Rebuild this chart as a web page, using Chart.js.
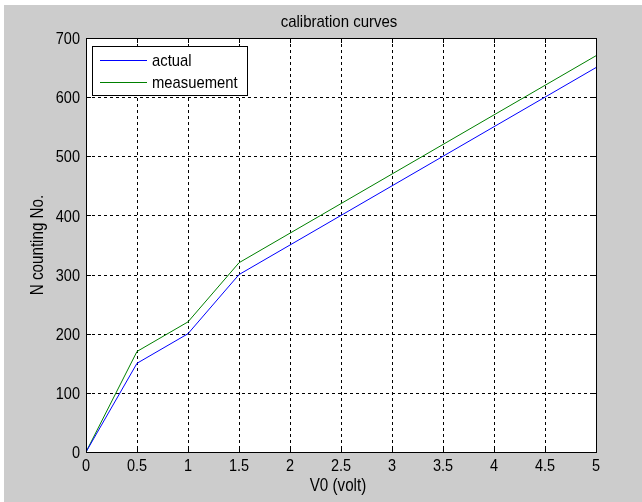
<!DOCTYPE html>
<html>
<head>
<meta charset="utf-8">
<script src="https://cdn.jsdelivr.net/npm/chart.js@4"></script>
<style>
  html, body { margin: 0; padding: 0; background: #ffffff; }
  #c { display: block; }
</style>
</head>
<body>
<canvas id="c" width="642" height="502"></canvas>
<script>
// ---- data ----
const voltages = [0, 0.5, 1, 1.5, 2, 2.5, 3, 3.5, 4, 4.5, 5];
const actual = [0, 150, 200, 300, 350, 400, 450, 500, 550, 600, 650];
const measurement = [0, 170, 220, 320, 370, 420, 470, 520, 570, 620, 670];
const seriesLabels = ['actual', 'measuement'];
const seriesColors = ['#0000ff', '#008000'];
const xTickValues = [0, 0.5, 1, 1.5, 2, 2.5, 3, 3.5, 4, 4.5, 5];
const yTickValues = [0, 100, 200, 300, 400, 500, 600, 700];
const titleText = 'calibration curves';
const xTitle = 'V0 (volt)';
const yTitle = 'N counting No.';

const FONT = '"Liberation Sans", Arial, sans-serif';

// draw text with a slight vertical stretch (the reference glyphs are taller than wide)
function drawText(ctx, text, x, y, size, stretch, align, rotate) {
  ctx.save();
  ctx.translate(x, y);
  if (rotate) ctx.rotate(-Math.PI / 2);
  ctx.scale(1, stretch);
  ctx.font = size + 'px ' + FONT;
  ctx.fillStyle = '#000';
  ctx.textAlign = align;
  ctx.textBaseline = 'alphabetic';
  ctx.fillText(text, 0, 0);
  ctx.restore();
}

const matlabPlugin = {
  id: 'matlab',
  beforeDraw(chart) {
    const ctx = chart.ctx;
    ctx.save();
    ctx.fillStyle = '#ffffff';
    ctx.fillRect(0, 0, chart.width, chart.height);
    ctx.fillStyle = '#cccccc';
    ctx.fillRect(4, 5, chart.width - 4, chart.height - 5);
    const a = chart.chartArea;
    ctx.fillStyle = '#ffffff';
    ctx.fillRect(a.left, a.top, a.right - a.left, a.bottom - a.top);
    ctx.restore();
  },
  beforeDatasetsDraw(chart) {
    const ctx = chart.ctx;
    const a = chart.chartArea;
    const xs = chart.scales.x, ys = chart.scales.y;
    ctx.save();
    ctx.strokeStyle = '#000';
    ctx.lineWidth = 1;
    ctx.setLineDash([3, 3]);
    ctx.beginPath();
    xs.ticks.forEach(t => {
      const v = t.value;
      if (v === xs.min || v === xs.max) return;
      const px = Math.round(xs.getPixelForValue(v)) + 0.5;
      ctx.moveTo(px, a.top);
      ctx.lineTo(px, a.bottom);
    });
    ys.ticks.forEach(t => {
      const v = t.value;
      if (v === ys.min || v === ys.max) return;
      const py = Math.round(ys.getPixelForValue(v)) + 0.5;
      ctx.moveTo(a.left, py);
      ctx.lineTo(a.right, py);
    });
    ctx.stroke();
    ctx.setLineDash([]);
    // inner tick marks (MATLAB style)
    const tl = 5;
    ctx.beginPath();
    xs.ticks.forEach(t => {
      const px = Math.round(xs.getPixelForValue(t.value)) + 0.5;
      ctx.moveTo(px, a.bottom); ctx.lineTo(px, a.bottom - tl);
      ctx.moveTo(px, a.top); ctx.lineTo(px, a.top + tl);
    });
    ys.ticks.forEach(t => {
      const py = Math.round(ys.getPixelForValue(t.value)) + 0.5;
      ctx.moveTo(a.left, py); ctx.lineTo(a.left + tl, py);
      ctx.moveTo(a.right, py); ctx.lineTo(a.right - tl, py);
    });
    ctx.stroke();
    ctx.restore();
  },
  afterDatasetsDraw(chart) {
    const ctx = chart.ctx;
    const a = chart.chartArea;
    const xs = chart.scales.x, ys = chart.scales.y;
    ctx.save();
    // axes box
    ctx.strokeStyle = '#000';
    ctx.lineWidth = 1;
    ctx.strokeRect(Math.round(a.left) + 0.5, Math.round(a.top) + 0.5,
                   Math.round(a.right - a.left), Math.round(a.bottom - a.top));
    // tick labels, from the library's scales
    xs.ticks.forEach(t => {
      const px = xs.getPixelForValue(t.value);
      drawText(ctx, String(t.label), px, a.bottom + 18.5, 14.5, 1.18, 'center', false);
    });
    ys.ticks.forEach(t => {
      const py = ys.getPixelForValue(t.value);
      drawText(ctx, String(t.label), a.left - 6, py + 6.2, 14.5, 1.18, 'right', false);
    });
    // legend
    const lx = a.left + 6, ly = a.top + 8, lw = 155, lh = 49;
    ctx.fillStyle = '#ffffff';
    ctx.fillRect(lx, ly, lw, lh);
    ctx.strokeStyle = '#000000';
    ctx.strokeRect(Math.round(lx) + 0.5, Math.round(ly) + 0.5, lw, lh);
    chart.data.datasets.forEach((ds, i) => {
      const row = Math.round(ly + 14 + i * 22);
      ctx.fillStyle = seriesColors[i];
      ctx.fillRect(Math.round(lx + 8), row, 47, 1);
      drawText(ctx, ds.label, lx + 60, row + 6, 14.8, 1.08, 'left', false);
    });
    // title & axis titles
    const cx = (a.left + a.right) / 2;
    drawText(ctx, titleText, cx - 2, 27, 15, 1.06, 'center', false);
    drawText(ctx, xTitle, cx - 3, 491, 15.2, 1.2, 'center', false);
    drawText(ctx, yTitle, 42.5, (a.top + a.bottom) / 2, 15.2, 1.2, 'center', true);
    ctx.restore();
  }
};

new Chart(document.getElementById('c'), {
  type: 'line',
  data: {
    datasets: [
      {
        label: seriesLabels[0],
        data: voltages.map((v, i) => ({ x: v, y: actual[i] })),
        borderColor: seriesColors[0],
        borderWidth: 1,
        pointRadius: 0,
        tension: 0,
        fill: false
      },
      {
        label: seriesLabels[1],
        data: voltages.map((v, i) => ({ x: v, y: measurement[i] })),
        borderColor: seriesColors[1],
        borderWidth: 1,
        pointRadius: 0,
        tension: 0,
        fill: false
      }
    ]
  },
  options: {
    responsive: false,
    animation: false,
    devicePixelRatio: 1,
    layout: { padding: { left: 4, top: 38, right: 46, bottom: 0 } },
    plugins: {
      legend: { display: false },
      title: { display: false },
      tooltip: { enabled: false }
    },
    scales: {
      x: {
        type: 'linear',
        min: 0, max: 5,
        afterBuildTicks(scale) { scale.ticks = xTickValues.map(v => ({ value: v })); },
        afterFit(scale) { scale.height = 50; },
        grid: { display: false, drawTicks: false },
        border: { display: false },
        ticks: {
          display: false,
          autoSkip: false,
          callback: v => String(v)
        }
      },
      y: {
        type: 'linear',
        min: 0, max: 700,
        afterBuildTicks(scale) { scale.ticks = yTickValues.map(v => ({ value: v })); },
        afterFit(scale) { scale.width = 82; },
        grid: { display: false, drawTicks: false },
        border: { display: false },
        ticks: {
          display: false,
          autoSkip: false,
          callback: v => String(v)
        }
      }
    }
  },
  plugins: [matlabPlugin]
});
</script>
</body>
</html>
